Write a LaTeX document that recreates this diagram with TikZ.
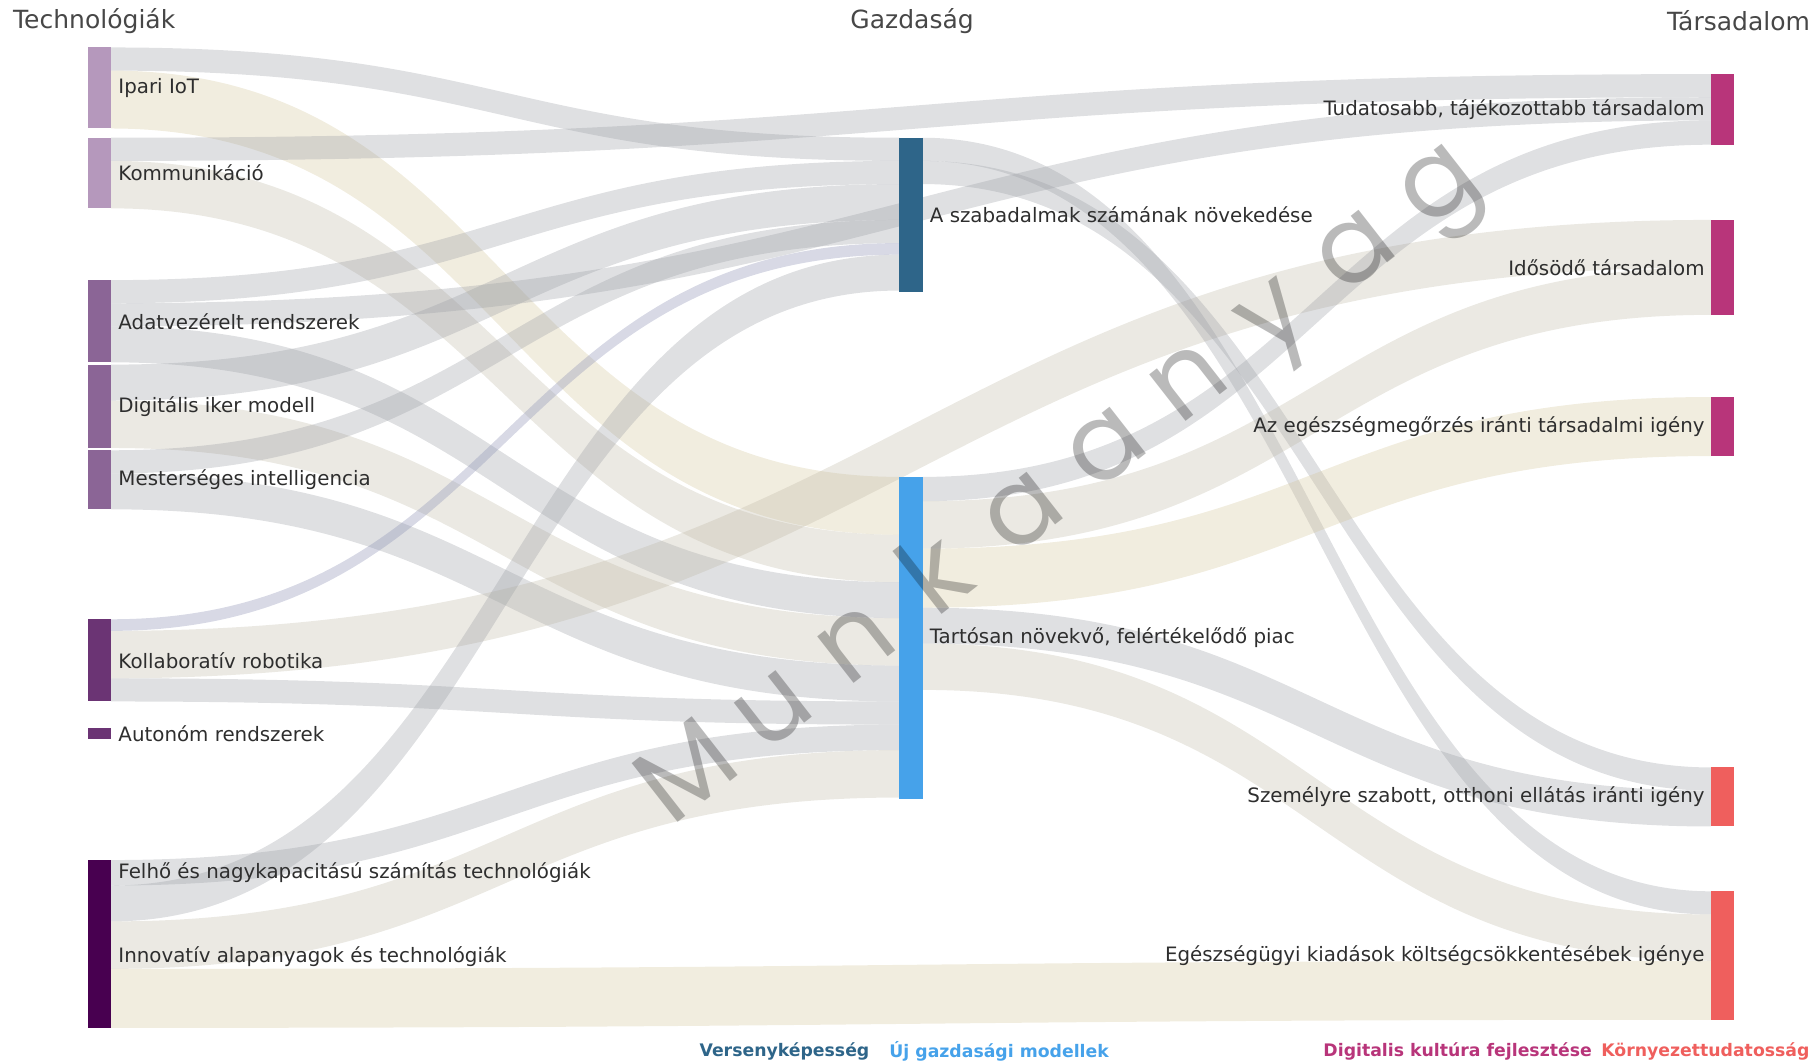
\documentclass[tikz,border=0pt]{standalone}
\usepackage{fontspec}
\setmainfont{DejaVu Sans}
\newfontfamily\wmfont{Poppins}
\usepackage{tikz}
\usetikzlibrary{positioning,calc}

\definecolor{techA}{RGB}{181,152,188}
\definecolor{techB}{RGB}{139,101,150}
\definecolor{techC}{RGB}{107,52,116}
\definecolor{techD}{RGB}{72,0,80}
\definecolor{versenyk}{RGB}{46,101,137}
\definecolor{ujgazd}{RGB}{70,162,234}
\definecolor{digkult}{RGB}{184,53,122}
\definecolor{kornyez}{RGB}{239,95,93}
\definecolor{linkgray}{RGB}{150,153,160}
\definecolor{linklav}{RGB}{140,145,180}
\definecolor{linkbeige}{RGB}{188,182,162}
\definecolor{linkyellow}{RGB}{210,196,150}

\tikzstyle{bar}=[rectangle,draw=white,line width=0.3pt,inner sep=0pt,outer sep=0pt,minimum width=0.4cm,anchor=north west]
\tikzstyle{lbl}=[font=\fontsize{9.75}{11}\selectfont,text=black!82,inner sep=0pt]
\tikzstyle{coltitle}=[font=\fontsize{12.3}{14}\selectfont,text=black!72,inner sep=0pt]
\tikzstyle{leg}=[font=\fontsize{8.5}{10}\selectfont\bfseries,inner sep=0pt,anchor=west]
\tikzstyle{wmark}=[font=\wmfont\fontsize{53}{55}\selectfont,text=black,text opacity=0.27,inner sep=0pt,anchor=base,rotate=38]
\tikzstyle{fgray}=[fill=linkgray,fill opacity=0.3]
\tikzstyle{flav}=[fill=linklav,fill opacity=0.34]
\tikzstyle{fbeige}=[fill=linkbeige,fill opacity=0.3]
\tikzstyle{fyellow}=[fill=linkyellow,fill opacity=0.3]
\tikzset{tall/.style={minimum height=#1*0.02cm}}

% band: style, source node, offset, target node, offset, width
\newcommand{\flow}[6]{%
  \path[#1] let \p1=($(#2.north east)+(0,-#3)$), \p2=($(#4.north west)+(0,-#5)$),
    \p3=($(\p1)!0.5!(\p2)$) in
    (\p1) .. controls (\x3,\y1) and (\x3,\y2) .. (\p2) -- ($(\p2)+(0,-#6)$)
    .. controls ($(\x3,\y2)+(0,-#6)$) and ($(\x3,\y1)+(0,-#6)$) .. ($(\p1)+(0,-#6)$) -- cycle;}

\begin{document}
\begin{tikzpicture}[x=0.02cm,y=0.02cm]
\useasboundingbox (0,0) rectangle (1568,-916);

% column titles
\node[coltitle,anchor=west] (ttech) at (11,-18) {Technológiák};
\node[coltitle] (tgazd) at (788,-18) {Gazdaság};
\node[coltitle,anchor=east] (ttars) at (1564,-18) {Társadalom};

% technologies
\node[bar,fill=techA,tall=70] (ipari) at (76,-41) {};
\node[bar,fill=techA,tall=61] (komm) at (76,-119) {};
\node[bar,fill=techB,tall=71] (adat) at (76,-242) {};
\node[bar,fill=techB,tall=72] (digi) at (76,-315) {};
\node[bar,fill=techB,tall=51] (mest) at (76,-389) {};
\node[bar,fill=techC,tall=71] (kollab) at (76,-535) {};
\node[bar,fill=techC,tall=9] (auton) at (76,-629) {};
\node[bar,fill=techD,tall=22] (felho) at (76,-743) {};
\node[bar,fill=techD,tall=123] (innov) at (76,-765) {};

% economy
\node[bar,fill=versenyk,tall=133] (szab) at (777,-119) {};
\node[bar,fill=ujgazd,tall=278] (piac) at (777,-412) {};

% society
\node[bar,fill=digkult,tall=61] (tudat) at (1478,-64) {};
\node[bar,fill=digkult,tall=82] (idos) at (1478,-190) {};
\node[bar,fill=digkult,tall=51] (egesz) at (1478,-343) {};
\node[bar,fill=kornyez,tall=51] (szemely) at (1478,-663) {};
\node[bar,fill=kornyez,tall=111] (kiadas) at (1478,-770) {};

% links
\flow{fgray}{ipari}{0}{szab}{0}{20}
\flow{fyellow}{ipari}{20}{piac}{0}{50}
\flow{fgray}{komm}{0}{tudat}{0}{20}
\flow{fbeige}{komm}{20}{piac}{50}{41}
\flow{fgray}{adat}{0}{szab}{20}{20}
\flow{fgray}{adat}{20}{tudat}{20}{20}
\flow{fgray}{adat}{40}{piac}{91}{31}
\flow{fgray}{digi}{0}{szab}{40}{31}
\flow{fbeige}{digi}{31}{piac}{122}{41}
\flow{fgray}{mest}{0}{szab}{71}{20}
\flow{fgray}{mest}{20}{piac}{163}{31}
\flow{flav}{kollab}{0}{szab}{91}{10}
\flow{fbeige}{kollab}{10}{idos}{0}{41}
\flow{fgray}{kollab}{51}{piac}{194}{20}
\flow{fgray}{felho}{0}{piac}{214}{22}
\flow{fgray}{innov}{0}{szab}{101}{31}
\flow{fbeige}{innov}{31}{piac}{236}{41}
\flow{fyellow}{innov}{72}{kiadas}{60}{51}
\flow{fgray}{szab}{0}{kiadas}{0}{20}
\flow{fgray}{szab}{20}{szemely}{0}{20}
\flow{fgray}{piac}{0}{tudat}{40}{21}
\flow{fbeige}{piac}{21}{idos}{41}{41}
\flow{fyellow}{piac}{62}{egesz}{0}{51}
\flow{fgray}{piac}{113}{szemely}{20}{31}
\flow{fbeige}{piac}{144}{kiadas}{20}{40}

% bars again on top of the bands
\foreach \n/\c in {ipari/techA,komm/techA,adat/techB,digi/techB,mest/techB,kollab/techC,auton/techC,felho/techD,innov/techD,szab/versenyk,piac/ujgazd,tudat/digkult,idos/digkult,egesz/digkult,szemely/kornyez,kiadas/kornyez}
  \fill[\c] (\n.north west) rectangle (\n.south east);

% labels
\node[lbl,right=0.12cm of ipari] (ipari-l) {Ipari IoT};
\node[lbl,right=0.12cm of komm] (komm-l) {Kommunikáció};
\node[lbl,right=0.12cm of adat] (adat-l) {Adatvezérelt rendszerek};
\node[lbl,right=0.12cm of digi] (digi-l) {Digitális iker modell};
\node[lbl,right=0.12cm of mest] (mest-l) {Mesterséges intelligencia};
\node[lbl,right=0.12cm of kollab] (kollab-l) {Kollaboratív robotika};
\node[lbl,right=0.12cm of auton] (auton-l) {Autonóm rendszerek};
\node[lbl,right=0.12cm of felho] (felho-l) {Felhő és nagykapacitású számítás technológiák};
\node[lbl,right=0.12cm of innov] (innov-l) {Innovatív alapanyagok és technológiák};
\node[lbl,right=0.12cm of szab] (szab-l) {A szabadalmak számának növekedése};
\node[lbl,right=0.12cm of piac] (piac-l) {Tartósan növekvő, felértékelődő piac};
\node[lbl,left=0.1cm of tudat] (tudat-l) {Tudatosabb, tájékozottabb társadalom};
\node[lbl,left=0.1cm of idos] (idos-l) {Idősödő társadalom};
\node[lbl,left=0.1cm of egesz] (egesz-l) {Az egészségmegőrzés iránti társadalmi igény};
\node[lbl,left=0.1cm of szemely] (szemely-l) {Személyre szabott, otthoni ellátás iránti igény};
\node[lbl,left=0.1cm of kiadas] (kiadas-l) {Egészségügyi kiadások költségcsökkentésébek igénye};

% legend
\node[leg,text=versenyk] (leg1) at (604,-908) {Versenyképesség};
\node[leg,text=ujgazd] (leg2) at (768,-908) {Új gazdasági modellek};
\node[leg,text=digkult] (leg3) at (1143,-908) {Digitalis kultúra fejlesztése};
\node[leg,text=kornyez] (leg4) at (1383,-908) {Környezettudatosság};

% watermark
\coordinate (wmA) at (612,-690);
\coordinate (wmB) at (1258,-180);
\foreach \ch [count=\i from 0] in {M,u,n,k,a,a,n,y,a,g}
  \node[wmark] (wm\i) at ($(wmA)!\i/9!(wmB)$) {\ch};
\end{tikzpicture}
\end{document}
